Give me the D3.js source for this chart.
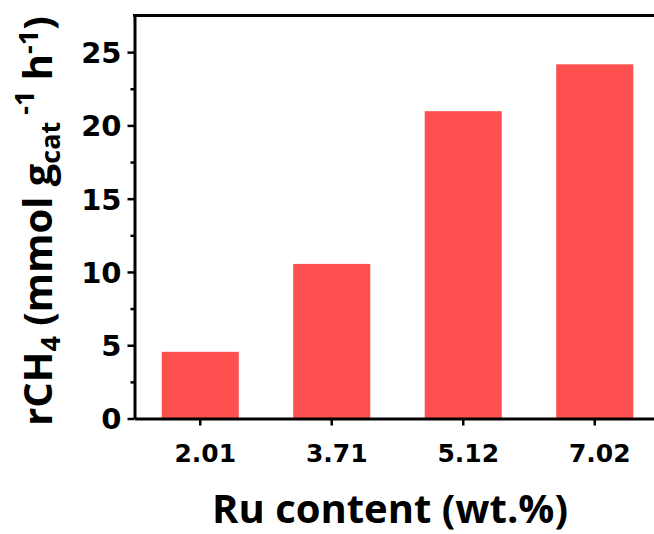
<!DOCTYPE html>
<html>
<head>
<meta charset="utf-8">
<script src="https://cdn.jsdelivr.net/npm/d3@7"></script>
<style>
  html, body { margin: 0; padding: 0; background: #fff; }
  svg { display: block; }
  .tick text { font-family: "DejaVu Sans", sans-serif; font-weight: bold; }
  .title { font-family: "Open Sans", Lato, sans-serif; font-weight: bold; fill: #000; }
</style>
</head>
<body>
<svg id="chart" width="654" height="534"></svg>
<script>
// Ru loading (wt.%) and CH4 production rate (mmol g_cat^-1 h^-1)
const categories = ["2.01", "3.71", "5.12", "7.02"];
const rates = [4.55, 10.55, 20.97, 24.17];
const yTicks = [0, 5, 10, 15, 20, 25];
const yMinorTicks = [2.5, 7.5, 12.5, 17.5, 22.5];

const svg = d3.select("#chart");
const plotLeft = 134.5, plotRight = 660.5, plotTop = 15.5, plotBottom = 418.5;

const x = d3.scaleBand().domain(categories).range([plotLeft, plotRight]).paddingInner(0.414).paddingOuter(0.207);
const y = d3.scaleLinear().domain([0, 27.5]).range([plotBottom, plotTop]);

// bars
svg.append("g").selectAll("rect")
  .data(categories.map((c, i) => ({ c, v: rates[i] })))
  .join("rect")
  .attr("x", d => x(d.c))
  .attr("width", x.bandwidth())
  .attr("y", d => y(d.v))
  .attr("height", d => y(0) - y(d.v))
  .attr("fill", "#ff5050");

// minor y ticks
svg.append("g")
  .attr("transform", `translate(${plotLeft},0)`)
  .call(d3.axisLeft(y).tickValues(yMinorTicks).tickSize(4).tickFormat(""))
  .call(g => g.select(".domain").remove())
  .call(g => g.selectAll("line").attr("stroke-width", 2.5));

// major y axis
const yAxis = svg.append("g")
  .attr("transform", `translate(${plotLeft},0)`)
  .call(d3.axisLeft(y).tickValues(yTicks).tickSize(7).tickPadding(6).tickSizeOuter(0));
yAxis.select(".domain").attr("stroke-width", 3);
yAxis.selectAll("line").attr("stroke-width", 2.5);
yAxis.selectAll("text").attr("font-size", 29).attr("dy", "0.36em");

// x axis
const xAxis = svg.append("g")
  .attr("transform", `translate(0,${plotBottom})`)
  .call(d3.axisBottom(x).tickSize(7).tickPadding(19).tickSizeOuter(0));
xAxis.select(".domain").attr("stroke-width", 3);
xAxis.selectAll("line").attr("stroke-width", 2.5);
xAxis.selectAll("text").attr("font-size", 25).attr("dx", "0.2em");

// top frame line
svg.append("line")
  .attr("x1", plotLeft - 1.5).attr("x2", plotRight)
  .attr("y1", plotTop).attr("y2", plotTop)
  .attr("stroke", "#000").attr("stroke-width", 3);

// x title
svg.append("text").attr("class", "title")
  .attr("x", 390).attr("y", 523)
  .attr("text-anchor", "middle")
  .attr("font-size", 40)
  .text("Ru content (wt.%)");

// y title with sub/superscripts
const yt = svg.append("text").attr("class", "title")
  .attr("transform", "translate(52,221) rotate(-90)")
  .attr("text-anchor", "middle")
  .attr("font-size", 40);
yt.append("tspan").text("rCH");
yt.append("tspan").attr("font-size", 27).attr("dy", 8).text("4");
yt.append("tspan").attr("dy", -8).text(" (mmol g");
yt.append("tspan").attr("font-size", 27).attr("dy", 8).text("cat");
yt.append("tspan").attr("font-size", 27).attr("dy", -26).text(" -1");
yt.append("tspan").attr("dy", 18).text(" h");
yt.append("tspan").attr("font-size", 27).attr("dy", -14).text("-1");
yt.append("tspan").attr("dy", 14).text(")");
</script>
</body>
</html>
